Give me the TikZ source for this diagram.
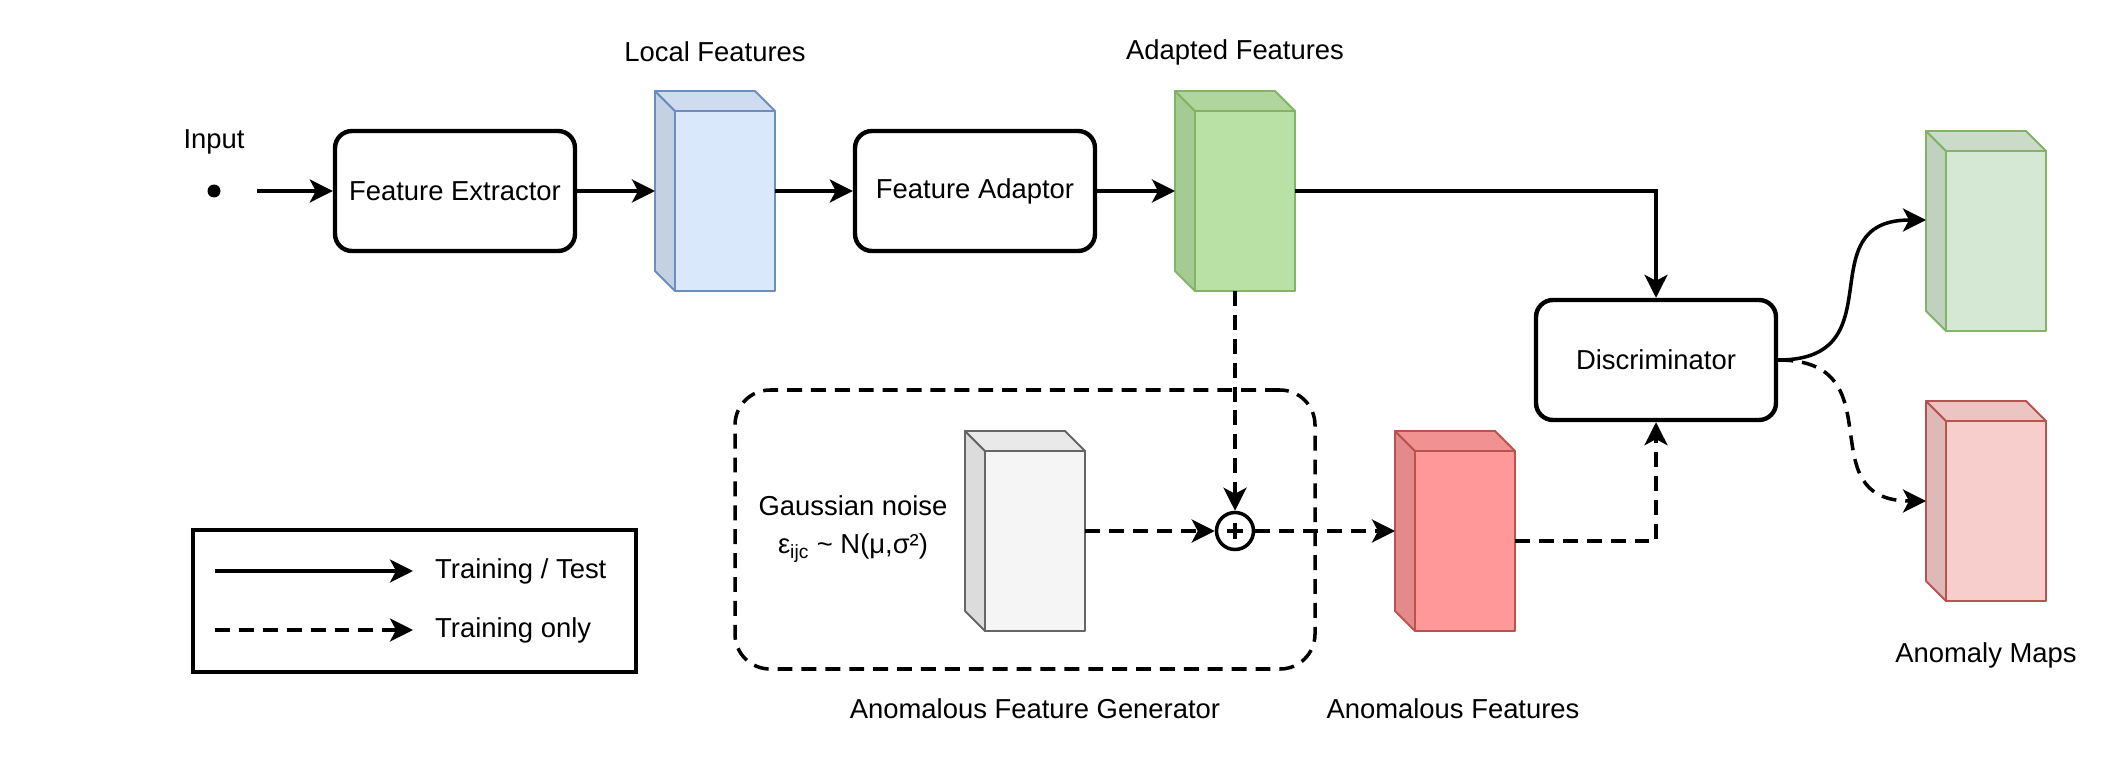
\documentclass[tikz,border=0pt]{standalone}
\usepackage{fontspec}
\setmainfont{Liberation Sans}
\usetikzlibrary{positioning, arrows.meta, calc}

\definecolor{lfFill}{HTML}{DAE8FC}
\definecolor{lfLine}{HTML}{6C8EBF}
\definecolor{afFill}{HTML}{B9E0A5}
\definecolor{afLine}{HTML}{82B366}
\definecolor{gmapFill}{HTML}{D5E8D4}
\definecolor{anfFill}{HTML}{FF9999}
\definecolor{rmapFill}{HTML}{F8CECC}
\definecolor{anLine}{HTML}{B85450}
\definecolor{noiseFill}{HTML}{F5F5F5}
\definecolor{noiseLine}{HTML}{666666}

% feature cube: name, position, front colour, edge colour
\newcommand{\featcube}[4]{%
  \node[cubebox] (#1) at (#2) {};
  \filldraw[cubeline, fill=#3, draw=#4] ($(#1.north west)+(0.4,-0.4)$) rectangle (#1.south east);
  \filldraw[cubeline, fill=#3!90!black, draw=#4] (#1.north west) -- ($(#1.north west)+(0.4,-0.4)$)
    -- ($(#1.south west)+(0.4,0)$) -- ($(#1.south west)+(0,0.4)$) -- cycle;
  \filldraw[cubeline, fill=#3!95!black, draw=#4] (#1.north west) -- ($(#1.north east)+(-0.4,0)$)
    -- (#1.north east |- {$(#1.north west)+(0.4,-0.4)$}) -- ($(#1.north west)+(0.4,-0.4)$) -- cycle;
}

\begin{document}
\begin{tikzpicture}[
  >={Stealth[length=0.46cm, width=0.46cm, inset=0.12cm]},
  every node/.style={font=\fontsize{15.6}{19}\selectfont},
  block/.style={draw, line width=2.5pt, rounded corners=0.34cm, minimum width=4.8cm, minimum height=2.4cm, align=center},
  cubebox/.style={minimum width=2.4cm, minimum height=4cm, inner sep=0pt, outer sep=0pt},
  cubeline/.style={line width=1.1pt, line join=round},
  flow/.style={->, line width=2pt},
  trainonly/.style={->, line width=2pt, dash pattern=on 8.5pt off 5.1pt}
]
\path[fill=white] (0,0) rectangle (42.2,15.2);
\useasboundingbox (0,0) rectangle (42.2,15.2);

% Generator frame (behind everything)
\node[draw, line width=2pt, dash pattern=on 8.5pt off 5.1pt, rounded corners=0.7cm,
  minimum width=11.6cm, minimum height=5.58cm] (gen) at (20.5,4.61) {};
\node (genlabel) at (20.7,1.02) {Anomalous Feature Generator};

% Input
\node (inlabel) at (4.28,12.36) {Input};
\node[circle, fill, inner sep=0pt, minimum size=0.26cm] (inp) at (4.28,11.38) {};

% Main row
\node[block] (fe) at (9.1,11.38) {Feature Extractor};
\featcube{lf}{14.3,11.38}{lfFill}{lfLine}
\node (lflabel) at (14.3,14.16) {Local Features};
\node[block] (fa) at (19.5,11.38) {Feature Adaptor};
\featcube{af}{24.7,11.38}{afFill}{afLine}
\node (aflabel) at (24.7,14.16) {Adapted Features};

% Discriminator and outputs
\node[block] (disc) at (33.12,8.0) {Discriminator};
\featcube{gmap}{39.72,10.58}{gmapFill}{afLine}
\featcube{rmap}{39.72,5.18}{rmapFill}{anLine}
\node (maplabel) at (39.72,2.1) {Anomaly Maps};

% Noise branch
\node[align=center, font=\fontsize{15.6}{21.6}\selectfont] (noisetext) at (17.06,4.62)
  {Gaussian noise\\ε\textsubscript{ijc} \textasciitilde{} N(μ,σ²)};
\featcube{noise}{20.5,4.58}{noiseFill}{noiseLine}
\node[circle, draw, line width=2pt, minimum size=0.74cm, inner sep=0pt] (sum) at (24.7,4.58) {};
\draw[line width=2pt] (sum.center) +(-0.16,0) -- +(0.16,0) (sum.center) +(0,-0.16) -- +(0,0.16);
\featcube{anf}{29.1,4.58}{anfFill}{anLine}
\node (anflabel) at (29.06,1.02) {Anomalous Features};

% Connectors
\draw[flow] ([xshift=0.72cm]inp.east) -- (fe);
\draw[flow] (fe) -- (lf);
\draw[flow] (lf) -- (fa);
\draw[flow] (fa) -- (af);
\draw[flow] (af.east) -| (disc.north);
\draw[flow] (disc.east) .. controls +(2.4,0) and +(-2.4,0) .. ([yshift=0.22cm]gmap.west);
\draw[trainonly] (disc.east) .. controls +(2.4,0) and +(-2.4,0) .. (rmap.west);
\draw[trainonly] (af.south) -- (sum.north);
\draw[trainonly] (noise.east) -- (sum.west);
\draw[trainonly] (sum.east) -- (anf.west);
\draw[trainonly] ([yshift=-0.2cm]anf.east) -| (disc.south);

% Legend
\node[draw, line width=1.9pt, minimum width=8.86cm, minimum height=2.84cm] (legend) at (8.29,3.18) {};
\node[anchor=west] (lgsolid) at (8.58,3.78) {Training / Test};
\node[anchor=west] (lgdash) at (8.58,2.6) {Training only};
\coordinate (lgs) at (4.3,3.78);
\coordinate (lgd) at (4.3,2.6);
\draw[flow] (lgs) -- ([xshift=-0.32cm]lgsolid.west);
\draw[trainonly] (lgd) -- ([xshift=-0.32cm]lgdash.west);

\end{tikzpicture}
\end{document}
